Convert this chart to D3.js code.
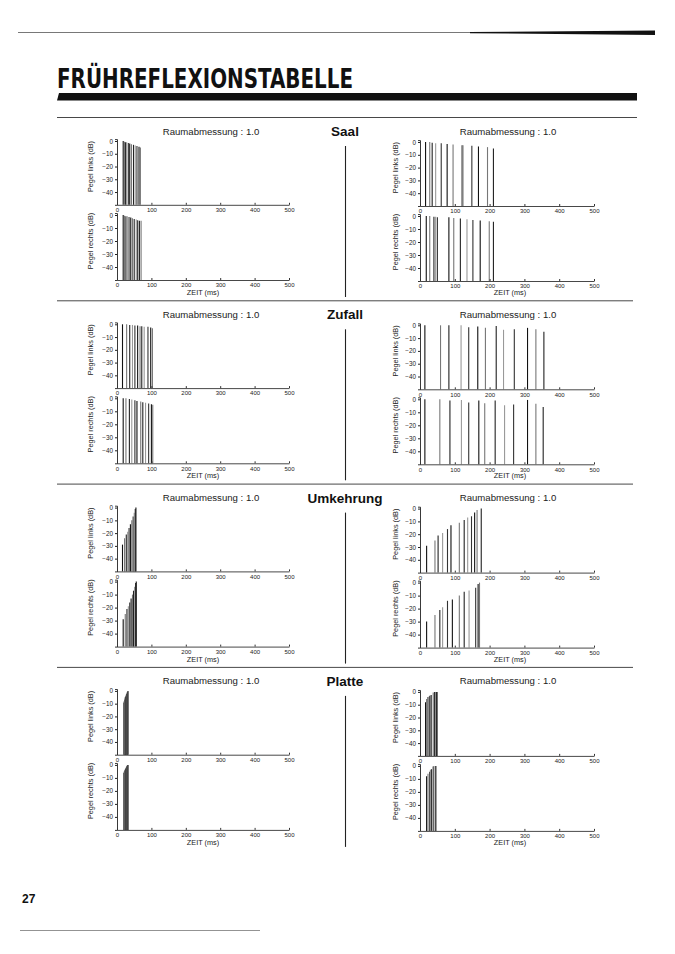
<!DOCTYPE html>
<html><head><meta charset="utf-8">
<script src="https://cdn.jsdelivr.net/npm/d3@7"></script>
<style>body{margin:0;background:#fff}svg{display:block}</style>
</head><body>
<script>
// ---------- data ----------
const pageTitle = "FRÜHREFLEXIONSTABELLE";
const pageNumber = "27";
const sections = ["Saal", "Zufall", "Umkehrung", "Platte"];
const roomSize = "Raumabmessung : 1.0";
const xLabel = "ZEIT (ms)";
const yLabelLinks = "Pegel links (dB)";
const yLabelRechts = "Pegel rechts (dB)";
const xTicks = [0, 100, 200, 300, 400, 500];
const yTicks = [0, -10, -20, -30, -40];

// [time ms, level dB]
const saalA_links  = [[18,0],[22,-0.5],[25,-1],[28,-1],[33,-1.5],[37,-2],[42,-2.5],[48,-3],[53,-3.5],[58,-4],[64,-4.5],[68,-5]];
const saalA_rechts = [[18,0],[22,-0.5],[26,-1],[30,-1],[35,-1.5],[40,-2],[45,-2.5],[50,-3],[56,-3.5],[60,-4],[65,-4.5],[70,-4.5]];
const saalB_links  = [[16,0],[28,0],[35,-0.5],[45,-1],[61,-1],[78,-1.5],[95,-2],[121,-2.5],[124,-2.5],[149,-3],[168,-3.5],[194,-4],[211,-5]];
const saalB_rechts = [[18,0],[28,0],[40,-0.5],[45,-0.5],[50,-1],[83,-1],[97,-1.5],[116,-2],[135,-2.5],[152,-3],[173,-3.5],[199,-4],[211,-4.5]];

const zufallA_links  = [[16,0],[28,0],[37,-0.5],[45,-0.5],[52,-1],[60,-1],[67,-1.5],[72,-1.5],[79,-2],[90,-2],[98,-2.5],[103,-3]];
const zufallA_rechts = [[18,0],[26,0],[36,-0.5],[43,-1],[52,-1.5],[58,-2],[69,-2.5],[75,-3],[83,-3.5],[92,-4],[100,-4.5],[104,-5]];
const zufallB_links  = [[14,0],[59,0],[83,0],[118,0],[140,-1.5],[166,-1],[188,-2],[219,-0.5],[240,-3.5],[271,-3],[309,-2],[333,-3],[356,-5]];
const zufallB_rechts = [[14,0],[57,0],[86,-1],[119,-0.5],[140,-2.5],[169,-1],[186,-3],[216,-1],[243,-4.5],[269,-4],[309,-0.5],[333,-3.5],[354,-6]];

const umkehrA_links  = [[16,-29],[22,-24],[27,-21],[31,-19],[35,-16],[39,-13],[43,-10],[47,-7],[50,-4],[53,-1],[55,0]];
const umkehrA_rechts = [[18,-29],[24,-25],[29,-21],[33,-19],[37,-16],[41,-13],[45,-10],[48,-7],[51,-4],[54,-1],[56,0]];
const umkehrB_links  = [[19,-29],[43,-25],[52,-21],[65,-19],[79,-16],[89,-13],[113,-11],[127,-9],[137,-7],[148,-6],[157,-3],[164,-1],[176,0]];
const umkehrB_rechts = [[19,-30],[43,-25],[57,-21],[65,-19],[79,-14],[93,-13],[113,-10],[127,-7],[141,-6],[160,-4],[167,-1],[171,0]];

const platteA_links  = [[20,-9],[21,-8],[22,-7],[23,-6],[24,-5],[25,-4.5],[26,-4],[27,-3],[28,-2.5],[29,-2],[30,-1],[31,-0.5],[32,0]];
const platteA_rechts = [[20,-6],[21,-5],[22,-4.5],[23,-4],[24,-3.5],[25,-3],[26,-2.5],[27,-2],[28,-1.5],[29,-1],[30,-0.5],[31,0],[32,0]];
const platteB_links  = [[16,-8],[19,-5.5],[23,-4],[26,-3.5],[28,-3],[32,-2.5],[38,-0.5],[42,0],[45,0],[47,0],[49,0]];
const platteB_rechts = [[19,-8],[23,-6],[28,-4.5],[30,-3],[33,-2.5],[38,-0.5],[40,0],[45,0],[47,0]];

const sectionData = [
  [[saalA_links, saalA_rechts], [saalB_links, saalB_rechts]],
  [[zufallA_links, zufallA_rechts], [zufallB_links, zufallB_rechts]],
  [[umkehrA_links, umkehrA_rechts], [umkehrB_links, umkehrB_rechts]],
  [[platteA_links, platteA_rechts], [platteB_links, platteB_rechts]]
];

// ---------- layout ----------
const W = 675, H = 954;
const STEP = 183.3;
const FONT = "'Liberation Sans', Arial, sans-serif";
const svg = d3.select("body").append("svg").attr("width", W).attr("height", H)
  .style("font-family", FONT);
svg.append("rect").attr("width", W).attr("height", H).attr("fill", "#fff");

// header rules
svg.append("line").attr("x1", 18).attr("x2", 655).attr("y1", 32.5).attr("y2", 32.5)
  .attr("stroke", "#555").attr("stroke-width", 0.8);
svg.append("path").attr("d", "M470,32 L655,30.5 L655,35 L470,33.2 Z").attr("fill", "#111");

svg.append("text").attr("x", 57).attr("y", 88).text(pageTitle)
  .attr("font-family", "'Liberation Sans Narrow','DejaVu Sans Condensed',Arial,sans-serif")
  .attr("font-weight", "bold").attr("font-size", 27)
  .attr("textLength", 296).attr("lengthAdjust", "spacingAndGlyphs").attr("fill", "#111");
svg.append("path").attr("d", "M59,93 L637,93 L637,100.5 L57,100.5 Z").attr("fill", "#111");

const panels = [
  { x0: 117, x1: 289, ylabX: 93, headX: 211, zeitX: 203,
    rows: [{ y0: 141, base: 204.8 }, { y0: 215, base: 280 }] },
  { x0: 420, x1: 594, ylabX: 398, headX: 508, zeitX: 510,
    rows: [{ y0: 142, base: 206 }, { y0: 216, base: 281 }] }
];
const shades = ["#111", "#777", "#222", "#999", "#333"];

sections.forEach((name, si) => {
  const oy = si * STEP;
  const g = svg.append("g").attr("transform", `translate(0,${oy})`);
  // separator
  g.append("line").attr("x1", 57).attr("x2", si === 0 ? 637 : 633)
    .attr("y1", 117.5).attr("y2", 117.5).attr("stroke", "#333").attr("stroke-width", 0.9);
  // section title
  g.append("text").attr("x", 345).attr("y", 136).attr("text-anchor", "middle")
    .attr("font-weight", "bold").attr("font-size", 13.5).attr("fill", "#111").text(name);
  // middle vertical line
  g.append("line").attr("x1", 345.5).attr("x2", 345.5).attr("y1", 146).attr("y2", 297)
    .attr("stroke", "#222").attr("stroke-width", 1.1);

  panels.forEach((p, pi) => {
    const x = d3.scaleLinear().domain([0, 500]).range([p.x0, p.x1]);
    g.append("text").attr("x", p.headX).attr("y", 134.5).attr("text-anchor", "middle")
      .attr("font-size", 9.6).attr("fill", "#222").text(roomSize);
    p.rows.forEach((r, ri) => {
      const per = (r.base - r.y0) / 50;
      const y = d3.scaleLinear().domain([-50, 1.5]).range([r.base, r.y0 - 1.5 * per]);
      const data = sectionData[si][pi][ri];
      // bars
      g.append("g").selectAll("line").data(data).join("line")
        .attr("x1", d => x(d[0])).attr("x2", d => x(d[0]))
        .attr("y1", y(-50)).attr("y2", d => y(d[1]))
        .attr("stroke", (d, i) => shades[i % shades.length]).attr("stroke-width", 1.1);
      // y axis
      const ya = g.append("g").attr("transform", `translate(${p.x0},0)`)
        .call(d3.axisLeft(y).tickValues(yTicks).tickSize(2).tickPadding(2));
      ya.select(".domain").attr("stroke", "#222").attr("stroke-width", 0.9);
      ya.selectAll("text").attr("font-size", 6.3).attr("font-family", FONT).attr("fill", "#222");
      ya.selectAll(".tick line").attr("stroke", "#222");
      // x axis
      const xa = g.append("g").attr("transform", `translate(0,${r.base})`)
        .call(d3.axisBottom(x).tickValues(xTicks).tickSize(2).tickSizeOuter(0).tickPadding(1));
      xa.select(".domain").attr("stroke", "#333").attr("stroke-width", 0.9);
      xa.selectAll("text").attr("font-size", 6).attr("font-family", FONT).attr("fill", "#222");
      xa.selectAll(".tick line").attr("stroke", "#333").attr("transform", "translate(0,-2)");
      // y label
      const cy = (r.y0 + y(-40)) / 2;
      g.append("text").attr("transform", `translate(${p.ylabX},${cy}) rotate(-90)`)
        .attr("text-anchor", "middle").attr("font-size", 7.3).attr("fill", "#222")
        .text(ri === 0 ? yLabelLinks : yLabelRechts);
    });
    g.append("text").attr("x", p.zeitX).attr("y", 295).attr("text-anchor", "middle")
      .attr("font-size", 7.3).attr("fill", "#222").text(xLabel);
  });
});

// footer
svg.append("text").attr("x", 22).attr("y", 903).attr("font-weight", "bold")
  .attr("font-size", 12).attr("fill", "#111").text(pageNumber);
svg.append("line").attr("x1", 20).attr("x2", 260).attr("y1", 930.5).attr("y2", 930.5)
  .attr("stroke", "#777").attr("stroke-width", 0.8);
</script>
</body></html>
